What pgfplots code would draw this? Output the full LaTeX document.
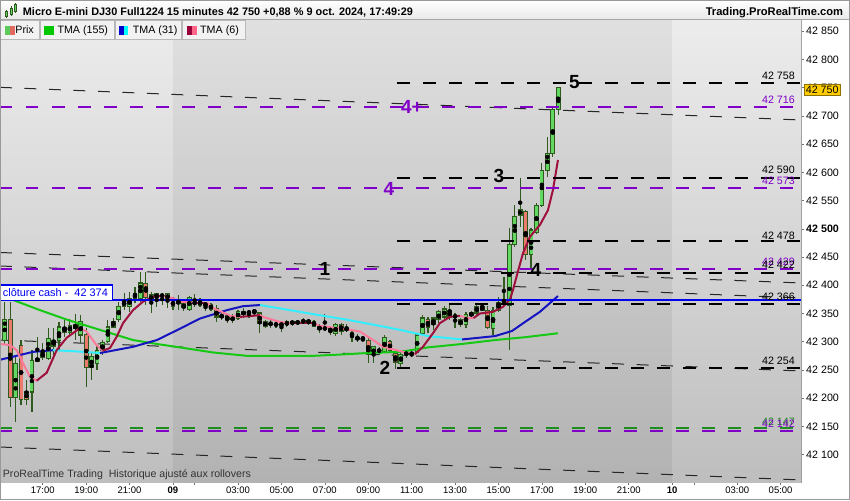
\documentclass[border=0pt]{standalone}
\usepackage{fontspec}
\setmainfont{Liberation Sans}
\usepackage{graphicx}
\usepackage{pgfplots}
\usepackage{pgfplotstable}
\pgfplotsset{compat=1.18}

\definecolor{wick}{HTML}{2F5A1E}
\definecolor{upc}{HTML}{62D862}
\definecolor{dnc}{HTML}{EC7A6E}
\definecolor{tmagreen}{HTML}{14C814}
\definecolor{tmablue}{HTML}{1414C0}
\definecolor{tmacyan}{HTML}{33EEFF}
\definecolor{tmared}{HTML}{A0103C}
\definecolor{tmapink}{HTML}{FF7A9A}
\definecolor{lvlpurple}{HTML}{8000C8}
\definecolor{lvlgreen}{HTML}{1E8C1E}
\definecolor{cashblue}{HTML}{0000F0}
\definecolor{bgAtop}{HTML}{ECECEC}
\definecolor{bgAbot}{HTML}{BEBEBE}
\definecolor{bgBtop}{HTML}{E0E0E0}
\definecolor{bgBbot}{HTML}{B2B2B2}
\definecolor{pricebox}{HTML}{FFCC00}
\definecolor{swg}{HTML}{5CCB5C}
\definecolor{swr}{HTML}{E06A60}
\definecolor{swgreen}{HTML}{00C800}
\definecolor{swblue}{HTML}{0000CD}
\definecolor{swcyan}{HTML}{00FFFF}
\definecolor{swdred}{HTML}{99003A}
\definecolor{swpink}{HTML}{FF6688}

% x = trading hours since 15:00 (8 Oct), bar start times
\pgfplotstableread{
x O H L C
0.25 42303 42370 42294 42339
0.75 42202 42277 42158 42262
1.5 42211 42285 42176 42266
1.75 42266 42308 42264 42271
2.0 42273 42298 42268 42280
2.25 42271 42324 42268 42305
2.5 42291 42324 42277 42303
2.75 42303 42335 42285 42326
3.25 42317 42340 42308 42328
3.5 42324 42349 42303 42330
3.75 42312 42347 42298 42335
4.25 42255 42282 42232 42273
4.5 42262 42294 42250 42285
4.75 42285 42303 42277 42298
5.0 42300 42339 42298 42326
5.25 42326 42342 42324 42335
5.5 42339 42370 42335 42363
5.75 42363 42386 42356 42372
6.0 42363 42388 42353 42376
6.25 42376 42397 42369 42386
6.5 42376 42424 42370 42404
7.0 42374 42388 42351 42383
7.25 42378 42386 42362 42385
7.5 42381 42386 42365 42383
7.75 42374 42386 42360 42386
8.5 42360 42370 42354 42367
8.75 42358 42381 42354 42378
9.0 42367 42385 42362 42370
9.5 42365 42369 42354 42367
10.25 42344 42351 42339 42347
10.75 42339 42349 42333 42342
11.0 42342 42356 42339 42353
11.25 42349 42360 42342 42353
11.5 42351 42356 42342 42353
11.75 42353 42358 42346 42355
12.25 42328 42339 42324 42335
12.5 42331 42339 42324 42333
13.0 42330 42335 42317 42331
13.25 42330 42339 42326 42335
13.5 42333 42339 42328 42335
14.0 42335 42342 42331 42337
14.75 42321 42331 42316 42328
15.5 42314 42333 42310 42330
16.0 42321 42331 42317 42324
16.75 42305 42308 42300 42307
17.25 42277 42293 42262 42291
17.5 42284 42291 42277 42285
17.75 42282 42312 42280 42308
18.5 42262 42282 42255 42278
18.75 42278 42285 42271 42280
19.0 42278 42282 42273 42280
19.25 42282 42315 42280 42312
19.5 42315 42347 42312 42342
20.0 42330 42344 42321 42342
20.25 42339 42356 42333 42353
20.5 42344 42363 42339 42358
21.5 42330 42353 42324 42349
21.75 42346 42355 42342 42351
22.0 42351 42369 42347 42363
22.75 42324 42362 42312 42355
23.0 42356 42379 42353 42370
23.25 42370 42415 42365 42374
23.5 42365 42502 42285 42473
23.75 42473 42542 42468 42521
24.0 42523 42590 42503 42535
24.5 42454 42502 42431 42498
24.75 42494 42546 42491 42542
25.0 42542 42617 42539 42603
25.25 42604 42663 42592 42634
25.5 42634 42714 42627 42711
25.75 42711 42751 42702 42750
}\upbars

\pgfplotstableread{
x O H L C
0.5 42339 42370 42184 42202
1.0 42294 42303 42188 42197
1.25 42211 42232 42188 42197
3.0 42326 42339 42308 42316
4.0 42312 42324 42220 42255
6.75 42404 42424 42365 42378
8.0 42374 42379 42356 42362
8.25 42374 42383 42356 42367
9.25 42372 42378 42362 42365
9.75 42365 42369 42354 42358
10.0 42358 42365 42335 42344
10.5 42346 42347 42333 42339
12.0 42351 42353 42316 42333
12.75 42333 42337 42324 42328
13.75 42335 42339 42330 42333
14.25 42337 42340 42330 42335
14.5 42335 42339 42326 42328
15.0 42326 42349 42319 42321
15.25 42323 42326 42312 42319
15.75 42331 42333 42312 42319
16.25 42317 42321 42300 42308
16.5 42307 42314 42300 42305
17.0 42303 42308 42262 42277
18.0 42300 42303 42282 42285
18.25 42280 42285 42252 42264
19.75 42340 42344 42316 42326
20.75 42355 42369 42339 42344
21.0 42346 42351 42324 42344
21.25 42339 42342 42326 42330
22.25 42362 42369 42355 42356
22.5 42356 42363 42323 42326
24.25 42530 42533 42445 42454
}\dnbars

\begin{document}
\begin{tikzpicture}[x=1pt,y=1pt]
\useasboundingbox (0,0) rectangle (850,500);
\fill[white] (0,0) rectangle (850,500);

\begin{axis}[
  at={(0pt,18pt)}, anchor=south west,
  width=801pt, height=462pt, scale only axis,
  xmin=0.03, xmax=36.94, ymin=42051.5, ymax=42870,
  axis line style={draw=black!40, line width=0.8pt},
  tick align=outside, major tick length=3pt,
  tick style={draw=black!55, line width=0.6pt},
  xtick pos=left, ytick pos=right, yticklabel pos=right,
  xtick={2,4,6,8,9,11,13,15,17,19,21,23,25,27,29,31,32,34,36},
  xticklabels={17:00,19:00,21:00,\textbf{09},{},03:00,05:00,07:00,09:00,11:00,13:00,15:00,17:00,19:00,21:00,\textbf{10},{},03:00,05:00},
  ytick={42100,42150,42200,42250,42300,42350,42400,42450,42500,42550,42600,42650,42700,42750,42800,42850},
  yticklabels={42 100,42 150,42 200,42 250,42 300,42 350,42 400,42 450,\textbf{42 500},42 550,42 600,42 650,42 700,42 750,42 800,42 850},
  xticklabel style={font=\fontsize{9.5}{11}\selectfont, inner sep=1.5pt},
  yticklabel style={font=\fontsize{10.7}{12}\selectfont, inner sep=2pt},
]
% day backgrounds
\shade[top color=bgAtop, bottom color=bgAbot] (axis cs:0.03,42870) rectangle (axis cs:8,42051.5);
\shade[top color=bgBtop, bottom color=bgBbot] (axis cs:8,42870) rectangle (axis cs:31,42051.5);
\shade[top color=bgAtop, bottom color=bgAbot] (axis cs:31,42870) rectangle (axis cs:36.94,42051.5);

% thin dashed trend lines
\addplot[black!85, line width=1pt, dash pattern=on 12pt off 12.5pt] coordinates {(0.03,42750.7) (36.94,42692.8)};
\addplot[black!85, line width=1pt, dash pattern=on 12pt off 12.5pt] coordinates {(0.03,42458.1) (36.94,42404.1)};
\addplot[black!85, line width=1pt, dash pattern=on 12pt off 12.5pt] coordinates {(0.03,42434.2) (36.94,42377.5)};
\addplot[black!85, line width=1pt, dash pattern=on 12pt off 12.5pt] coordinates {(0.03,42303.1) (36.94,42248.2)};
\addplot[black!85, line width=1pt, dash pattern=on 12pt off 12.5pt] coordinates {(0.03,42113.5) (36.94,42055.1)};

% candles: wicks
\addplot[only marks, mark=none, error bars/.cd, y dir=both, y explicit, error mark=none,
  error bar style={line width=1.2pt, draw=wick}]
  table[x=x, y expr={(\thisrow{H}+\thisrow{L})/2}, y error expr={(\thisrow{H}-\thisrow{L})/2}] {\upbars};
\addplot[only marks, mark=none, error bars/.cd, y dir=both, y explicit, error mark=none,
  error bar style={line width=1.2pt, draw=wick}]
  table[x=x, y expr={(\thisrow{H}+\thisrow{L})/2}, y error expr={(\thisrow{H}-\thisrow{L})/2}] {\dnbars};
% bodies: outline
\addplot[only marks, mark=none, error bars/.cd, y dir=both, y explicit, error mark=none,
  error bar style={line width=4.7pt, draw=wick}]
  table[x=x, y expr={(\thisrow{O}+\thisrow{C})/2}, y error expr={abs(\thisrow{C}-\thisrow{O})/2+1}] {\upbars};
\addplot[only marks, mark=none, error bars/.cd, y dir=both, y explicit, error mark=none,
  error bar style={line width=4.7pt, draw=wick}]
  table[x=x, y expr={(\thisrow{O}+\thisrow{C})/2}, y error expr={abs(\thisrow{C}-\thisrow{O})/2+1}] {\dnbars};
% bodies: fill
\addplot[only marks, mark=none, error bars/.cd, y dir=both, y explicit, error mark=none,
  error bar style={line width=3.0pt, draw=upc}]
  table[x=x, y expr={(\thisrow{O}+\thisrow{C})/2}, y error expr={max(abs(\thisrow{C}-\thisrow{O})/2-0.9,0)}] {\upbars};
\addplot[only marks, mark=none, error bars/.cd, y dir=both, y explicit, error mark=none,
  error bar style={line width=3.0pt, draw=dnc}]
  table[x=x, y expr={(\thisrow{O}+\thisrow{C})/2}, y error expr={max(abs(\thisrow{C}-\thisrow{O})/2-0.9,0)}] {\dnbars};

% TMA (155)
\addplot[tmagreen, line width=2pt, line join=round] coordinates {(0.03,42383) (0.63,42374) (1.87,42356) (3.12,42339) (4.64,42321) (6.16,42303) (7.26,42296) (8.32,42290) (9.84,42281) (11.41,42275) (12.93,42275) (14.45,42275) (15.56,42277) (16.94,42280) (18.46,42282) (19.75,42290) (21.32,42296) (22.84,42303) (24.22,42308) (25.74,42315)};
% TMA (31)
\addplot[tmablue, line width=2pt, line join=round] coordinates {(0.03,42268) (1.0,42277) (1.55,42282) (2.47,42285)};
\addplot[tmacyan, line width=2pt, line join=round] coordinates {(2.47,42285) (3.5,42283) (4.64,42280)};
\addplot[tmablue, line width=2pt, line join=round] coordinates {(4.64,42280) (6.16,42291) (7.26,42303) (8.32,42323) (9.24,42341) (10.49,42356) (11.23,42363) (12.01,42365)};
\addplot[tmacyan, line width=2pt, line join=round] coordinates {(12.01,42365) (12.93,42359) (14.45,42349) (16.02,42339) (17.54,42328) (18.46,42321) (19.75,42310) (21.32,42304)};
\addplot[tmablue, line width=2pt, line join=round] coordinates {(21.32,42304) (22.84,42310) (23.62,42319) (24.22,42335) (24.91,42353) (25.74,42381)};
% TMA (6)
\addplot[tmapink, line width=2pt, line join=round] coordinates {(0.03,42296) (0.49,42294) (0.80,42285) (1.09,42262) (1.41,42238) (1.72,42231)};
\addplot[tmared, line width=2pt, line join=round] coordinates {(1.72,42231) (2.18,42245) (2.64,42285) (3.10,42307) (3.71,42324)};
\addplot[tmapink, line width=2pt, line join=round] coordinates {(3.71,42324) (4.02,42318) (4.48,42294) (4.77,42284)};
\addplot[tmared, line width=2pt, line join=round] coordinates {(4.77,42284) (5.10,42289) (5.41,42309) (5.70,42333) (6.16,42356) (6.62,42371) (7.08,42380) (7.54,42381)};
\addplot[tmapink, line width=2pt, line join=round] coordinates {(7.54,42381) (8.00,42377) (8.32,42371) (8.92,42369)};
\addplot[tmared, line width=2pt, line join=round] coordinates {(8.92,42369) (9.57,42369)};
\addplot[tmapink, line width=2pt, line join=round] coordinates {(9.57,42369) (9.84,42360) (10.63,42346) (11.09,42344)};
\addplot[tmared, line width=2pt, line join=round] coordinates {(11.09,42344) (12.01,42347)};
\addplot[tmapink, line width=2pt, line join=round] coordinates {(12.01,42347) (12.15,42344) (12.93,42335) (13.39,42333)};
\addplot[tmared, line width=2pt, line join=round] coordinates {(13.39,42333) (14.45,42333)};
\addplot[tmapink, line width=2pt, line join=round] coordinates {(14.45,42333) (14.77,42328) (16.02,42322) (16.62,42318) (17.22,42303) (17.68,42291) (18.32,42285) (18.78,42280) (19.15,42278)};
\addplot[tmared, line width=2pt, line join=round] coordinates {(19.15,42278) (19.52,42291) (19.98,42315) (20.30,42333) (20.76,42344) (21.23,42346)};
\addplot[tmapink, line width=2pt, line join=round] coordinates {(21.23,42346) (21.55,42342) (21.85,42342)};
\addplot[tmared, line width=2pt, line join=round] coordinates {(21.85,42342) (22.15,42350) (22.75,42353) (23.21,42362) (23.53,42375) (23.67,42392) (23.85,42418) (24.13,42457) (24.45,42486) (24.91,42507) (25.28,42533) (25.51,42569) (25.74,42622)};

% horizontal levels
\addplot[lvlgreen, line width=2pt, dash pattern=on 12.5pt off 13.5pt] coordinates {(0.03,42147) (36.94,42147)};
\addplot[lvlpurple, line width=2pt, dash pattern=on 12.5pt off 13.5pt] coordinates {(0.03,42142) (36.94,42142)};
\addplot[lvlpurple, line width=2pt, dash pattern=on 12.5pt off 13.5pt] coordinates {(0.03,42716) (36.94,42716)};
\addplot[lvlpurple, line width=2pt, dash pattern=on 12.5pt off 13.5pt] coordinates {(0.03,42573) (36.94,42573)};
\addplot[lvlpurple, line width=2pt, dash pattern=on 12.5pt off 13.5pt] coordinates {(0.03,42429) (36.94,42429)};
\addplot[black, line width=2pt, dash pattern=on 13pt off 13pt] coordinates {(18.32,42758) (36.94,42758)};
\addplot[black, line width=2pt, dash pattern=on 13pt off 13pt] coordinates {(18.32,42590) (36.94,42590)};
\addplot[black, line width=2pt, dash pattern=on 13pt off 13pt] coordinates {(18.32,42478) (36.94,42478)};
\addplot[black, line width=2pt, dash pattern=on 13pt off 13pt] coordinates {(18.32,42422) (36.94,42422)};
\addplot[black, line width=2pt, dash pattern=on 13pt off 13pt] coordinates {(18.32,42366) (36.94,42366)};
\addplot[black, line width=2pt, dash pattern=on 13pt off 13pt] coordinates {(18.32,42254) (36.94,42254)};
\addplot[cashblue, line width=2pt] coordinates {(0.03,42374) (36.94,42374)};
\end{axis}

% header band
\shade[top color=white, bottom color=black!9] (0,480) rectangle (850,500);
\draw[black!35] (0,480.4) -- (850,480.4);
\node[anchor=base west, inner sep=0] at (22.7,484.5) {\resizebox{390pt}{!}{\bfseries Micro E-mini DJ30 Full1224 15 minutes 42 750 +0,88 \% 9 oct. 2024, 17:49:29}};
\node[anchor=base east, inner sep=0, font=\fontsize{11.15}{12}\selectfont\bfseries] at (843.3,484.5) {Trading.ProRealTime.com};
% header icon
\draw[wick, line width=0.8pt] (6.5,482) -- (6.5,490) (11,484) -- (11,494) (15.5,487) -- (15.5,497);
\filldraw[fill=upc, draw=wick, line width=0.6pt] (5.3,483.5) rectangle (7.7,488.5);
\filldraw[fill=upc, draw=wick, line width=0.6pt] (9.8,486) rectangle (12.2,492);
\filldraw[fill=upc, draw=wick, line width=0.6pt] (14.3,489) rectangle (16.7,495.5);

% legend boxes
\begin{scope}[font=\fontsize{10.7}{12}\selectfont]
\filldraw[fill=black!5, draw=black!28, line width=0.7pt] (0.4,460.7) rectangle (39.3,479.6);
\filldraw[fill=black!5, draw=black!28, line width=0.7pt] (40,460.7) rectangle (114.3,479.6);
\filldraw[fill=black!5, draw=black!28, line width=0.7pt] (115,460.7) rectangle (181.7,479.6);
\filldraw[fill=black!5, draw=black!28, line width=0.7pt] (182.7,460.7) rectangle (245,479.6);
\node[anchor=base west, inner sep=0] at (15.2,466.5) {Prix};
\fill[swg] (5,465) rectangle (10,474);
\fill[swr] (10,465) rectangle (15,474);
\fill[swgreen] (44,465) rectangle (54,474);
\node[anchor=base west, inner sep=0] at (57.3,466.5) {TMA (155)};
\fill[swblue] (119,465) rectangle (123.7,474);
\fill[swcyan] (123.7,465) rectangle (128.3,474);
\node[anchor=base west, inner sep=0] at (132.7,466.5) {TMA (31)};
\fill[swdred] (186.7,465) rectangle (191.7,474);
\fill[swpink] (191.7,465) rectangle (196.7,474);
\node[anchor=base west, inner sep=0] at (200,466.5) {TMA (6)};
\end{scope}

% cloture cash box
\filldraw[fill=white, draw=cashblue, line width=1.3pt] (0.6,199.6) rectangle (112.5,215);
\node[anchor=base west, inner sep=0, text=cashblue] at (2.7,203.3) {\resizebox{105pt}{!}{clôture cash -\ \ 42 374}};

% level labels
\begin{scope}[font=\fontsize{10.7}{12}\selectfont]
\node[anchor=east, inner sep=0] at (795,424.5) {42 758};
\node[anchor=east, inner sep=0, text=lvlpurple] at (795,400.5) {42 716};
\node[anchor=east, inner sep=0, text=lvlpurple] at (795,319) {42 573};
\node[anchor=east, inner sep=0] at (795,330) {42 590};
\node[anchor=east, inner sep=0] at (795,264.5) {42 478};
\node[anchor=east, inner sep=0, text=lvlpurple] at (795,238.3) {42 429};
\node[anchor=east, inner sep=0] at (795,235) {42 422};
\node[anchor=east, inner sep=0] at (795,203) {42 366};
\node[anchor=east, inner sep=0] at (795,139.5) {42 254};
\node[anchor=east, inner sep=0, text=lvlgreen] at (795,78) {42 147};
\node[anchor=east, inner sep=0, text=lvlpurple] at (795,76) {42 142};
\end{scope}

% wave annotations
\begin{scope}[font=\fontsize{19}{20}\selectfont\bfseries, inner sep=0]
\node at (574.5,418) {5};
\node[text=lvlpurple] at (412,393) {4+};
\node at (499,324.5) {3};
\node[text=lvlpurple] at (389,311) {4};
\node at (325,231) {1};
\node at (536,230.5) {4};
\node at (385,132.5) {2};
\end{scope}

% footer text
\node[anchor=base west, inner sep=0, text=black!80] at (2.7,22.5) {\resizebox{248pt}{!}{ProRealTime Trading\ \ Historique ajusté aux rollovers}};

% current price tag
\filldraw[fill=pricebox, draw=black!45!pricebox, line width=0.7pt] (804.3,405) rectangle (840,416);
\node[inner sep=0, font=\fontsize{10.7}{12}\selectfont] at (822.2,410.5) {42 750};

% frame
\draw[black!40, line width=0.8pt] (0.4,0.4) rectangle (849.6,499.6);
\end{tikzpicture}
\end{document}
